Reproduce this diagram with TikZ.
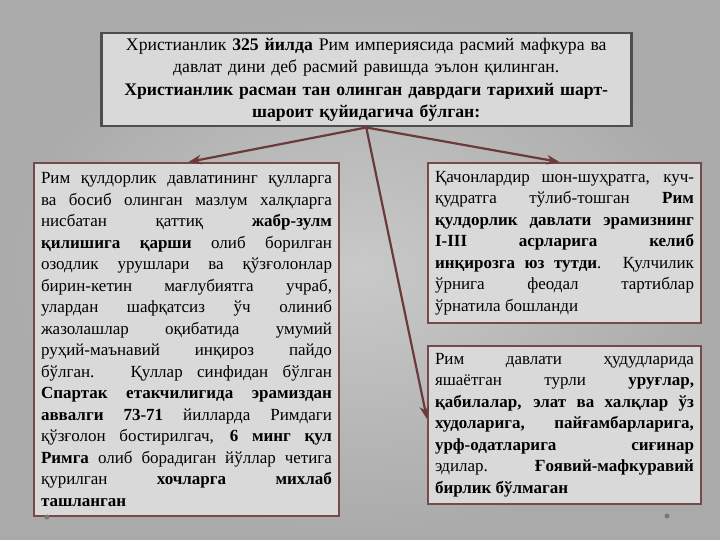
\documentclass[tikz,border=0pt]{standalone}
\usepackage{fontspec}
\setmainfont{Liberation Serif}
\usetikzlibrary{arrows.meta, positioning}
\definecolor{slidegray}{RGB}{170,170,170}
\definecolor{slidelight}{RGB}{201,201,201}
\definecolor{boxfill}{RGB}{217,217,217}
\definecolor{boxbrown}{RGB}{118,74,74}
\definecolor{boxdark}{RGB}{78,78,78}
\definecolor{linkbrown}{RGB}{108,58,58}
\definecolor{dotgray}{RGB}{120,120,120}
\tolerance=10000
\hyphenpenalty=10000
\exhyphenpenalty=10000

\begin{document}
\begin{tikzpicture}[x=1pt, y=-1pt, >=Stealth,
    textbox/.style={draw=boxbrown, line width=2pt, fill=boxfill, anchor=north west,
        inner xsep=7pt, inner ysep=2pt, align=justify,
        font=\fontsize{17}{21.5}\selectfont},
    link/.style={->, line width=2.2pt, linkbrown}]
    % Background
    \shade[inner color=slidelight, outer color=slidegray] (0,0) rectangle (720,540);
    \useasboundingbox (0,0) rectangle (720,540);

    % Heading box
    \node[textbox, draw=boxdark, line width=2.5pt, align=center, text width=526pt,
        inner xsep=2pt, minimum height=93pt,
        font=\fontsize{17.7}{22.3}\selectfont] (edict) at (100,32)
        {Христианлик \textbf{325 йилда} Рим империясида расмий мафкура ва\\
         давлат дини деб расмий равишда эълон қилинган.\\
         \textbf{Христианлик расман тан олинган даврдаги тарихий шарт-}\\
         \textbf{шароит қуйидагича бўлган:}};

    % Left box
    \node[textbox, text width=291pt, minimum height=353pt] (revolts) at (33,162)
        {Рим қулдорлик давлатининг қулларга\linebreak
         ва босиб олинган мазлум халқларга\linebreak
         нисбатан қаттиқ \textbf{жабр-зулм}\linebreak
         \textbf{қилишига қарши} олиб борилган\linebreak
         озодлик урушлари ва қўзғолонлар\linebreak
         бирин-кетин мағлубиятга учраб,\linebreak
         улардан шафқатсиз ўч олиниб\linebreak
         жазолашлар оқибатида умумий\linebreak
         руҳий-маънавий инқироз пайдо\linebreak
         бўлган. Қуллар синфидан бўлган\linebreak
         \textbf{Спартак етакчилигида эрамиздан}\linebreak
         \textbf{аввалги 73-71} йилларда Римдаги\linebreak
         қўзғолон бостирилгач, \textbf{6 минг қул}\linebreak
         \textbf{Римга} олиб борадиган йўллар четига\linebreak
         қурилган \textbf{хочларга михлаб}\linebreak
         \textbf{ташланган}};

    % Right boxes
    \node[textbox, text width=259pt, minimum height=160pt] (crisis) at (427,162)
        {Қачонлардир шон-шуҳратга, куч-\linebreak
         қудратга тўлиб-тошган \textbf{Рим}\linebreak
         \textbf{қулдорлик давлати эрамизнинг}\linebreak
         \textbf{I-III асрларига келиб}\linebreak
         \textbf{инқирозга юз тутди}. Қулчилик\linebreak
         ўрнига феодал тартиблар\linebreak
         ўрнатила бошланди};
    \node[textbox, text width=259pt, minimum height=158pt] (tribes) at (427,345)
        {Рим давлати ҳудудларида\linebreak
         яшаётган турли \textbf{уруғлар,}\linebreak
         \textbf{қабилалар, элат ва халқлар ўз}\linebreak
         \textbf{худоларига, пайғамбарларига,}\linebreak
         \textbf{урф-одатларига сиғинар}\linebreak
         эдилар. \textbf{Ғоявий-мафкуравий}\linebreak
         \textbf{бирлик бўлмаган}};

    % Links
    \draw[link] (edict.south) -- ([xshift=2pt]revolts.north);
    \draw[link] (edict.south) -- ([xshift=-5pt]crisis.north);
    \draw[link] (edict.south) -- ([yshift=6pt]tribes.west);

    % Slide dots
    \fill[dotgray] (47,517) circle (2.5);
    \fill[dotgray] (667,516) circle (2.5);
\end{tikzpicture}
\end{document}
